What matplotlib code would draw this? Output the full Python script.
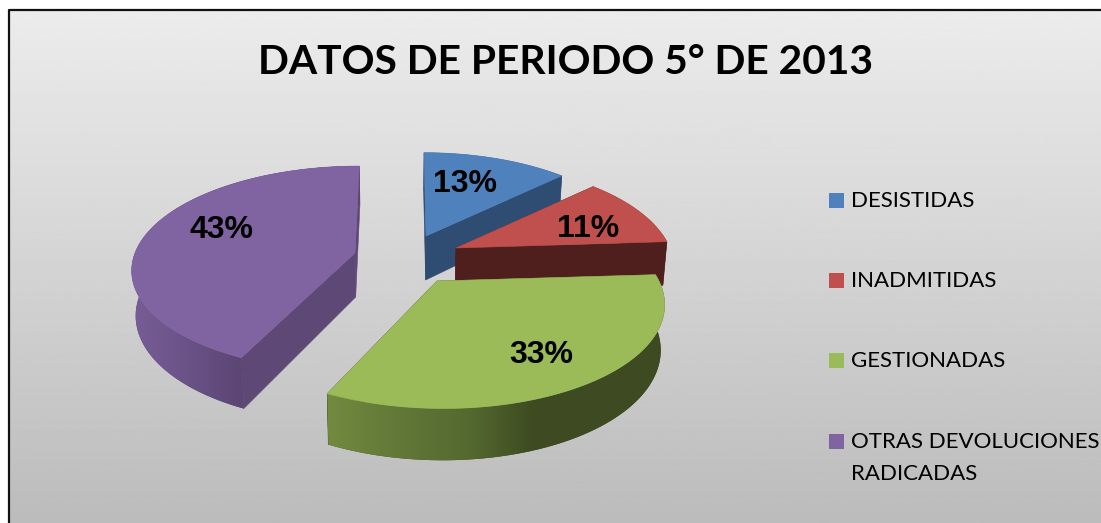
# 3D looking exploded pie, periodo 5 de 2013
import matplotlib
matplotlib.use("Agg")
import matplotlib.pyplot as plt
from matplotlib.colors import to_rgb
from matplotlib.patches import Polygon, Rectangle
import numpy as np

title = "DATOS DE PERIODO 5° DE 2013"
categories = ["DESISTIDAS", "INADMITIDAS", "GESTIONADAS", "OTRAS DEVOLUCIONES\nRADICADAS"]
values = [13, 11, 33, 43]

# styles and placement of each slice
top_colors = ["#4f81bd", "#c0504d", "#9bbb59", "#8064a2"]
wall_colors = ["#2f4d73", "#4f1f1d", "#3f4c22", "#5e4876"]
apex_x = [426, 456, 437, 355]
apex_y = [236, 248, 281, 253]
radius_x = [214, 214, 222, 220]
radius_y = [100, 102, 102, 100]
persp = [0.2, 0.2, 0.2, 0.15]
lean = [-0.024, 0.0, -0.05, 0.05]
label_x = [465, 588, 541, 221]
label_y = [182, 227, 353, 228]
legend_y = [200, 280, 360, 441]
draw_order = [0, 1, 3, 2]

# rim shading: x pixel -> colour
rim_stops = {
    2: ([330, 400, 470, 530, 660], ["#72893f", "#617838", "#54692f", "#3f4c22", "#3d4a22"]),
    3: ([135, 180, 240], ["#775c95", "#6c5489", "#5c4674"]),
}

DEPTH = 44
DEPTH_PERSP = 0.15
# the bottom of the pie is a bit narrower than the top
SHRINK = 0.015
SHRINK_X = 400


def project(i, angle):
    # pie coordinates to pixels, with a little perspective
    X = np.cos(angle)
    Y = np.sin(angle)
    den = 1 + persp[i] * Y
    up = radius_y[i] * Y / den
    x = apex_x[i] + radius_x[i] * X / den + lean[i] * up
    y = apex_y[i] - up
    drop = DEPTH / (1 + DEPTH_PERSP * Y)
    return x, y, drop


def lower(x):
    return x + (SHRINK_X - x) * SHRINK


fig = plt.figure(figsize=(11.01, 5.23), dpi=100)
ax = fig.add_axes([0, 0, 1, 1])
ax.axis("off")

# chart area with grey gradient and black frame
shade = np.linspace(0.925, 0.735, 256).reshape(-1, 1)
ax.imshow(shade, cmap="gray", vmin=0, vmax=1, extent=[9, 1101, 523, 9], aspect="auto", zorder=0)
ax.plot([8.5, 8.5, 1101], [523, 9.5, 9.5], color="#111111", lw=1.6, zorder=1)

ends = 90 - 360 * np.cumsum(values) / np.sum(values)
starts = np.r_[90, ends[:-1]]

z = 2
for i in draw_order:
    angles = np.radians(np.linspace(starts[i], ends[i], 121))
    x, y, drop = project(i, angles)
    ax0, ay0 = apex_x[i], apex_y[i]

    # the two cut faces
    for k in (0, -1):
        wall = [(ax0, ay0), (x[k], y[k]), (lower(x[k]), y[k] + drop[k]), (lower(ax0), ay0 + DEPTH)]
        ax.add_patch(Polygon(wall, facecolor=wall_colors[i], edgecolor=wall_colors[i], lw=0.4, zorder=z))

    # rim, one polygon; shaded ones get a gradient image clipped to it
    rim = np.r_[np.column_stack([x, y]), np.column_stack([lower(x), y + drop])[::-1]]
    patch = Polygon(rim, facecolor=wall_colors[i], edgecolor="none", zorder=z)
    ax.add_patch(patch)
    if i in rim_stops:
        xs, cols = rim_stops[i]
        rgb = np.array([to_rgb(c) for c in cols])
        px = np.arange(int(x.min()) - 2, int(x.max()) + 3)
        strip = np.stack([np.interp(px, xs, rgb[:, k]) for k in range(3)], axis=1)[np.newaxis]
        im = ax.imshow(strip, extent=[px[0], px[-1], (y + drop).max() + 2, y.min() - 2],
                       aspect="auto", zorder=z, interpolation="bilinear")
        im.set_clip_path(patch)

    # top surface
    top = np.column_stack([np.r_[ax0, x], np.r_[ay0, y]])
    ax.add_patch(Polygon(top, facecolor=top_colors[i], edgecolor=top_colors[i], lw=0.4, zorder=z))
    z += 1

for i, v in enumerate(values):
    ax.text(label_x[i], label_y[i] + 2, f"{v}%", ha="center", va="center", fontsize=23,
            fontweight="bold", family="Liberation Sans", color="black", zorder=10)

ax.text(566, 62, title, ha="center", va="center", fontsize=29.3, fontweight="bold",
        family="Lato", color="black", zorder=10)

# legend on the right
for i, name in enumerate(categories):
    ax.add_patch(Rectangle((829, legend_y[i] - 7.5), 15, 15, facecolor=top_colors[i], edgecolor="none", zorder=10))
    ax.text(851, legend_y[i] - 9, name, ha="left", va="top", fontsize=16, family="Lato",
            color="black", linespacing=1.75, zorder=10)

ax.set_xlim(0, 1101)
ax.set_ylim(523, 0)
fig.savefig("out.png", dpi=100)
